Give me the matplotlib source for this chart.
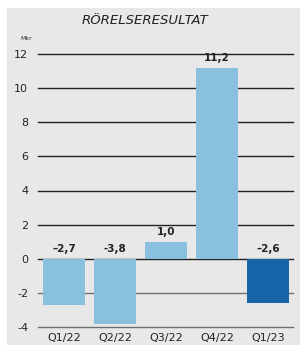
import matplotlib
matplotlib.use("Agg")
import matplotlib.pyplot as plt
from matplotlib.patches import Rectangle

quarters = ["Q1/22", "Q2/22", "Q3/22", "Q4/22", "Q1/23"]
values = [-2.7, -3.8, 1.0, 11.2, -2.6]
labels = ["\u20132,7", "-3,8", "1,0", "11,2", "\u20132,6"]
yticks = [-4, -2, 0, 2, 4, 6, 8, 10, 12]
ytick_labels = ["-4", "-2", "0", "2", "4", "6", "8", "10", "12"]

light = "#88c0dd"
dark = "#1764a8"
colors = [light, light, light, light, dark]

fig = plt.figure(figsize=(3.07, 3.49), dpi=100)
fig.patch.set_facecolor("white")
fig.patches.append(Rectangle((7 / 307, 4 / 349), 293 / 307, 337 / 349,
                             transform=fig.transFigure, facecolor="#e8e8e8",
                             edgecolor="none", zorder=-5))

ax = fig.add_axes([38 / 307, 1 - 327 / 349, 255 / 307, 273 / 349])
ax.set_zorder(2)
ax.set_facecolor("none")
x = range(len(quarters))
ax.bar(x, values, width=0.82, color=colors, zorder=3)

for xi, v, lab in zip(x, values, labels):
    y = v if v > 0 else 0
    ax.text(xi, y + 0.25, lab, ha="center", va="bottom", fontsize=7.5,
            fontweight="bold", color="#222222")

for t in yticks:
    ax.axhline(t, color="#222222" if t >= 0 else "#707070", lw=1.0, zorder=1,
               clip_on=False)

ax.set_xlim(-0.51, 4.49)
ax.set_ylim(-4, 12)
ax.set_yticks(yticks)
ax.set_yticklabels(ytick_labels, fontsize=8)
ax.set_xticks(list(x))
ax.set_xticklabels(quarters, fontsize=8)
ax.tick_params(axis="both", length=0, colors="#222222")
ax.tick_params(axis="y", pad=7)
ax.tick_params(axis="x", pad=4)
for s in ax.spines.values():
    s.set_visible(False)

fig.text(145 / 307, 1 - 20 / 349, "RÖRELSERESULTAT", ha="center", va="center",
         fontsize=9.5, style="italic", color="#222222")
fig.text(20 / 307, 1 - 38 / 349, "Mkr", ha="left", va="center", fontsize=4.5,
         color="#333333")

fig.savefig("out.png", dpi=100)
